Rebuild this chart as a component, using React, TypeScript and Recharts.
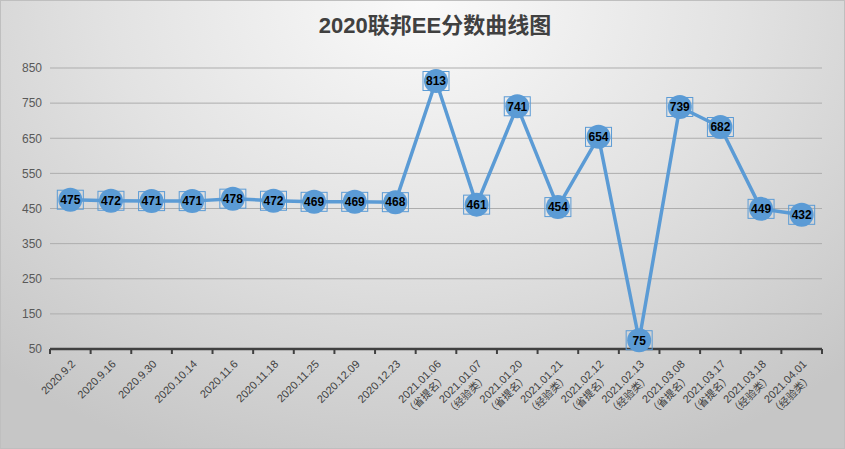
import React from 'react';
import { LineChart, Line, XAxis, YAxis, CartesianGrid, LabelList } from 'recharts';

const dates = [
  '2020.9.2', '2020.9.16', '2020.9.30', '2020.10.14', '2020.11.6', '2020.11.18',
  '2020.11.25', '2020.12.09', '2020.12.23', '2021.01.06', '2021.01.07', '2021.01.20',
  '2021.01.21', '2021.02.12', '2021.02.13', '2021.03.08', '2021.03.17', '2021.03.18',
  '2021.04.01',
];
const notes = [
  '', '', '', '', '', '', '', '', '',
  '（省提名）', '（经验类）', '（省提名）', '（经验类）', '（省提名）', '（经验类）',
  '（省提名）', '（省提名）', '（经验类）', '（经验类）',
];
const scores = [475, 472, 471, 471, 478, 472, 469, 469, 468, 813, 461, 741, 454, 654, 75, 739, 682, 449, 432];
const yTicks = [50, 150, 250, 350, 450, 550, 650, 750, 850];

const data = dates.map((d, i) => ({ name: d, note: notes[i], score: scores[i] }));

const W = 845;
const H = 449;
const X_H = 30;
const M = { top: 68, right: 23, bottom: 100 - X_H, left: 10 };
const Y_W = 40;
const STEP = (W - M.left - Y_W - M.right) / dates.length;
const BLUE = '#5B9BD5';
const FONT = "'Liberation Sans', 'Noto Sans CJK SC', sans-serif";

const XTick = (props: any) => {
  const { x, y, payload, index } = props;
  const i = payload?.index ?? index;
  const note = notes[i];
  const half = STEP / 2;
  return (
    <g>
      <line x1={x - half} x2={x - half} y1={y} y2={y + 5} stroke="#404040" strokeWidth={2} />
      {i === dates.length - 1 && (
        <line x1={x + half} x2={x + half} y1={y} y2={y + 5} stroke="#404040" strokeWidth={2} />
      )}
      <g transform={`translate(${x + 3},${y + 13}) rotate(-45)`}>
        <text textAnchor="end" fontSize={11} fill="#404040" fontFamily={FONT} dy="0.35em">
          {payload.value}
        </text>
        {note && (
          <text x={-6} y={14} textAnchor="end" fontSize={10.5} fill="#404040" fontFamily={FONT} dy="0.35em">
            {note}
          </text>
        )}
      </g>
    </g>
  );
};

const ValueBox = (props: any) => {
  const { x, y, value } = props;
  return (
    <g>
      <rect x={x - 13} y={y - 9.5} width={26} height={19} fill="none" stroke={BLUE} strokeWidth={1} />
      <text x={x} y={y} textAnchor="middle" dy="0.36em" fontSize={12} fontWeight="bold" fill="#000" fontFamily={FONT}>
        {value}
      </text>
    </g>
  );
};

export default function App() {
  return (
    <div
      style={{
        position: 'absolute',
        left: 0,
        top: 0,
        width: W,
        height: H,
        background: 'radial-gradient(ellipse 75% 110% at 50% 0%, #fafafa 0%, #e2e2e2 50%, #c6c6c6 100%)',
        boxShadow: 'inset 0 0 0 1px #bfbfbf',
        fontFamily: FONT,
      }}
    >
      <div
        style={{
          position: 'absolute',
          top: 7,
          left: 0,
          width: 870,
          textAlign: 'center',
          fontSize: 22,
          fontWeight: 'bold',
          color: '#404040',
        }}
      >
        2020联邦EE分数曲线图
      </div>
      <div style={{ position: 'absolute', left: 0, top: 0 }}>
        <LineChart width={W} height={H} data={data} margin={M}>
          <CartesianGrid vertical={false} stroke="#adadad" strokeWidth={1} />
          <XAxis
            dataKey="name"
            height={X_H}
            interval={0}
            tickSize={0}
            tickMargin={0}
            tickLine={false}
            axisLine={{ stroke: '#404040', strokeWidth: 2.5 }}
            padding={{ left: STEP / 2, right: STEP / 2 }}
            tick={<XTick />}
          />
          <YAxis
            width={Y_W}
            domain={[50, 850]}
            ticks={yTicks}
            interval={0}
            axisLine={false}
            tickLine={false}
            tickSize={0}
            tickMargin={8}
            tick={{ fill: '#595959', fontSize: 12, fontFamily: FONT }}
          />
          <Line
            type="linear"
            dataKey="score"
            stroke={BLUE}
            strokeWidth={3.5}
            dot={{ r: 12, fill: BLUE, stroke: 'none' }}
            activeDot={false}
            isAnimationActive={false}
          >
            <LabelList dataKey="score" content={<ValueBox />} />
          </Line>
        </LineChart>
      </div>
    </div>
  );
}
